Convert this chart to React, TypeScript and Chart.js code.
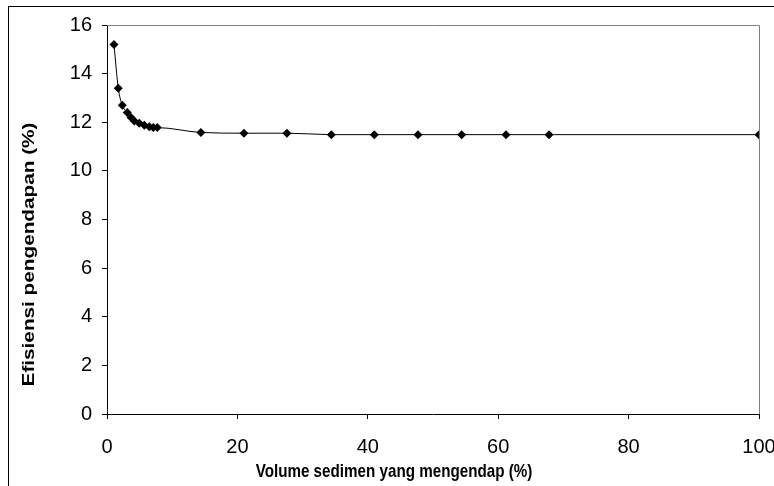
import React, { useEffect, useRef } from "react";
import { Chart, registerables } from "chart.js";

Chart.register(...registerables);

const volumeX: number[] = [1.07, 1.73, 2.35, 3.11, 3.68, 4.19, 4.95, 5.72, 6.49, 7.1, 7.71, 14.4, 21.0, 27.6, 34.4, 41.0, 47.7, 54.4, 61.2, 67.8, 100];
const efficiencyY: number[] = [15.2, 13.4, 12.7, 12.4, 12.2, 12.05, 11.96, 11.88, 11.82, 11.78, 11.78, 11.58, 11.55, 11.55, 11.49, 11.49, 11.49, 11.49, 11.49, 11.49, 11.49];

const xTitle = "Volume sedimen yang mengendap (%)";
const yTitle = "Efisiensi pengendapan (%)";
const xMin = 0, xMax = 100, xStep = 20;
const yMin = 0, yMax = 16, yStep = 2;

const FONT = "Arial, 'Liberation Sans', sans-serif";

export default function App() {
  const ref = useRef<HTMLCanvasElement | null>(null);
  useEffect(() => {
    if (!ref.current) return;
    const decor = {
      id: "decor",
      beforeDraw(chart: any) {
        const { ctx } = chart;
        ctx.save();
        ctx.fillStyle = "#fff";
        ctx.fillRect(0, 0, chart.width, chart.height);
        ctx.restore();
      },
      afterDraw(chart: any) {
        const { ctx, chartArea: a } = chart;
        ctx.save();
        ctx.strokeStyle = "#808080";
        ctx.lineWidth = 1;
        ctx.beginPath();
        ctx.moveTo(a.left, Math.round(a.top) + 0.5);
        ctx.lineTo(Math.round(a.right) + 0.5, Math.round(a.top) + 0.5);
        ctx.lineTo(Math.round(a.right) + 0.5, a.bottom);
        ctx.stroke();
        ctx.restore();

        // x title (condensed)
        ctx.save();
        ctx.fillStyle = "#000";
        ctx.font = `bold 19px ${FONT}`;
        ctx.textAlign = "center";
        ctx.textBaseline = "alphabetic";
        ctx.translate(394, 477);
        ctx.scale(0.8, 1);
        ctx.fillText(xTitle, 0, 0);
        ctx.restore();

        // y title
        ctx.save();
        ctx.fillStyle = "#000";
        ctx.font = `bold 17px ${FONT}`;
        ctx.textAlign = "center";
        ctx.textBaseline = "alphabetic";
        ctx.translate(33.5, 254.5);
        ctx.rotate(-Math.PI / 2);
        ctx.scale(1.22, 1);
        ctx.fillText(yTitle, 0, 0);
        ctx.restore();

        ctx.save();
        ctx.strokeStyle = "#000";
        ctx.lineWidth = 1;
        ctx.strokeRect(8.5, 6.5, 800, 600);
        ctx.restore();
      },
    };
    const chart = new Chart(ref.current, {
      type: "scatter",
      data: {
        datasets: [
          {
            data: volumeX.map((x, i) => ({ x, y: efficiencyY[i] })),
            showLine: true,
            borderColor: "#000",
            borderWidth: 1,
            backgroundColor: "#000",
            pointStyle: "rectRot",
            pointRadius: 4.5,
            pointBorderWidth: 0,
            pointBackgroundColor: "#000",
            cubicInterpolationMode: "monotone",
          },
        ],
      },
      options: {
        animation: false,
        responsive: false,
        maintainAspectRatio: false,
        layout: { padding: { top: 25, right: 15, left: 0, bottom: 0 } },
        plugins: { legend: { display: false }, tooltip: { enabled: false } },
        scales: {
          x: {
            type: "linear",
            min: xMin,
            max: xMax,
            afterFit: (s: any) => { s.height = 72; s.paddingRight = 0; s.paddingLeft = 0; },
            ticks: { stepSize: xStep, color: "#000", font: { family: FONT, size: 20 }, padding: 16, maxRotation: 0 },
            grid: { drawOnChartArea: false, drawTicks: true, tickLength: 5, color: "#000" },
            border: { display: true, color: "#000", width: 1 },
          },
          y: {
            type: "linear",
            min: yMin,
            max: yMax,
            afterFit: (s: any) => { s.width = 107; s.paddingTop = 0; s.paddingBottom = 0; },
            ticks: { stepSize: yStep, color: "#000", font: { family: FONT, size: 20 }, padding: 10 },
            grid: { drawOnChartArea: false, drawTicks: true, tickLength: 5, color: "#000" },
            border: { display: true, color: "#000", width: 1 },
          },
        },
      },
      plugins: [decor],
    } as any);
    return () => chart.destroy();
  }, []);
  return (
    <div style={{ position: "absolute", left: 0, top: 0, width: 774, height: 486, overflow: "hidden", background: "#fff" }}>
      <canvas ref={ref} width={774} height={486} style={{ width: 774, height: 486, display: "block" }} />
    </div>
  );
}
